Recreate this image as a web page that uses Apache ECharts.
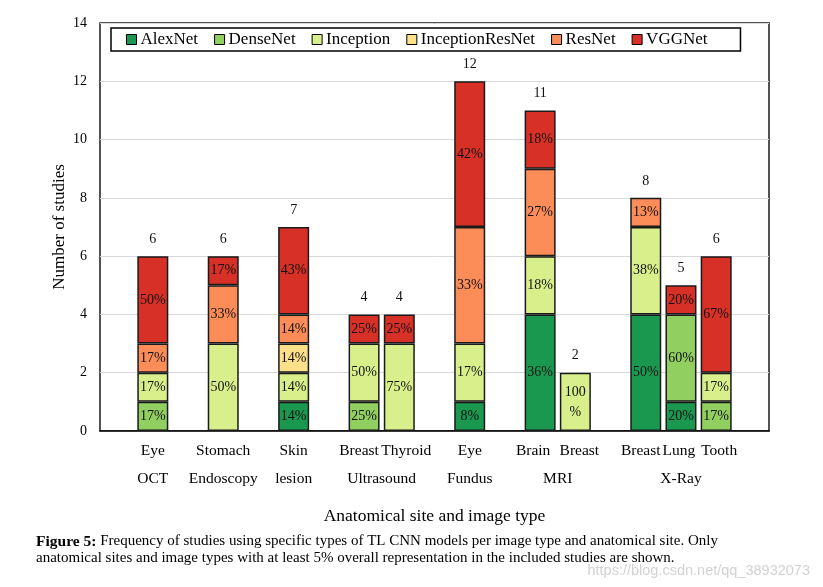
<!DOCTYPE html>
<html>
<head>
<meta charset="utf-8">
<script src="https://cdn.jsdelivr.net/npm/echarts@6/dist/echarts.min.js"></script>
<style>
html,body{margin:0;padding:0;background:#fff;}
#chart{width:823px;height:587px;}
</style>
</head>
<body>
<div id="chart"></div>
<script>
// 19 category slots (blank slots separate the groups, as in the original)
const sites = ['', 'Eye', '', 'Stomach', '', 'Skin', '', 'Breast', 'Thyroid', '', 'Eye', '', 'Brain', 'Breast', '', 'Breast', 'Lung', 'Tooth', ''];
// second-level labels on a 39-position (half-slot) axis
const imageTypes = ['', '', '', 'OCT', '', '', '', 'Endoscopy', '', '', '', 'lesion', '', '', '', '', 'Ultrasound', '', '', '', '', 'Fundus', '', '', '', '', 'MRI', '', '', '', '', '', '', 'X-Ray', '', '', '', '', ''];
const models = ['AlexNet', 'DenseNet', 'Inception', 'InceptionResNet', 'ResNet', 'VGGNet'];
const colors = ['#1a9850', '#91cf60', '#d9ef8b', '#fee08b', '#fc8d59', '#d73027'];

const alexNet         = [0, 0, 0, 0, 0, 1, 0, 0, 0, 0, 1, 0, 4, 0, 0, 4, 1, 0, 0];
const denseNet        = [0, 1, 0, 0, 0, 0, 0, 1, 0, 0, 0, 0, 0, 0, 0, 0, 3, 1, 0];
const inception       = [0, 1, 0, 3, 0, 1, 0, 2, 3, 0, 2, 0, 2, 2, 0, 3, 0, 1, 0];
const inceptionResNet = [0, 0, 0, 0, 0, 1, 0, 0, 0, 0, 0, 0, 0, 0, 0, 0, 0, 0, 0];
const resNet          = [0, 1, 0, 2, 0, 1, 0, 0, 0, 0, 4, 0, 3, 0, 0, 1, 0, 0, 0];
const vggNet          = [0, 3, 0, 1, 0, 3, 0, 1, 1, 0, 5, 0, 2, 0, 0, 0, 1, 4, 0];
const totals          = [0, 6, 0, 6, 0, 7, 0, 4, 4, 0, 12, 0, 11, 2, 0, 8, 5, 6, 0];

const yTicks = [0, 2, 4, 6, 8, 10, 12, 14];

// small label nudges (Excel spreads touching labels apart)
const labelShift = {7: -5, 8: 7, 12: -7, 13: 4, 15: -5, 16: -2, 17: 3};

const serif = 'Liberation Serif';
const valuesList = [alexNet, denseNet, inception, inceptionResNet, resNet, vggNet];

const series = models.map((name, k) => ({
  name: name,
  type: 'bar',
  stack: 'all',
  barWidth: 31,
  data: valuesList[k].map(v => v === 0 ? '-' : v),
  itemStyle: { color: colors[k], borderColor: '#1a1a1a', borderWidth: 1.5 },
  label: {
    show: true,
    position: 'inside',
    fontFamily: serif,
    fontSize: 14,
    color: '#111',
    width: 30,
    overflow: 'breakAll',
    lineHeight: 20,
    formatter: p => Math.round(p.value / totals[p.dataIndex] * 100) + '%'
  }
}));

series.push({
  name: 'Total',
  type: 'bar',
  barWidth: 31,
  barGap: '-100%',
  silent: true,
  data: totals.map(v => v === 0 ? '-' : v),
  itemStyle: { color: 'rgba(0,0,0,0)', borderWidth: 0 },
  label: {
    show: true,
    position: 'top',
    distance: 10,
    fontFamily: serif,
    fontSize: 14,
    color: '#111',
    formatter: p => String(p.value)
  },
  z: 1
});

const chart = echarts.init(document.getElementById('chart'));
chart.setOption({
  animation: false,
  backgroundColor: '#fff',
  title: [
    {
      left: 31,
      top: 528,
      text: '{b|Figure 5:} Frequency of studies using specific types of TL CNN models per image type and anatomical site. Only\nanatomical sites and image types with at least 5% overall representation in the included studies are shown.',
      textStyle: {
        fontFamily: serif,
        fontSize: 15,
        fontWeight: 'normal',
        color: '#000',
        lineHeight: 17,
        rich: {
          b: { fontFamily: serif, fontSize: 15.5, fontWeight: 'bold', color: '#000', lineHeight: 17 }
        }
      }
    },
    {
      right: 8,
      top: 558,
      text: 'https://blog.csdn.net/qq_38932073',
      textStyle: { fontFamily: 'Liberation Sans', fontSize: 14.5, fontWeight: 'normal', color: '#d2d2d2' }
    }
  ],
  legend: {
    data: models,
    left: 111,
    top: 28,
    itemWidth: 10,
    itemHeight: 10,
    itemGap: 16,
    icon: 'rect',
    padding: [3, 33, 3, 15],
    borderColor: '#000',
    borderWidth: 1.5,
    itemStyle: { borderColor: '#000', borderWidth: 1 },
    textStyle: { fontFamily: serif, fontSize: 17, color: '#000', padding: [0, 0, 0, -1] }
  },
  grid: {
    left: 100, right: 54, top: 23, bottom: 156,
    show: true, borderColor: '#1a1a1a', borderWidth: 1.5,
    containLabel: false
  },
  xAxis: [
    {
      type: 'category',
      data: sites,
      position: 'bottom',
      axisLine: { show: true, lineStyle: { color: '#000', width: 1.5 } },
      axisTick: { show: false },
      axisLabel: {
        interval: 0,
        margin: 12,
        fontFamily: serif,
        fontSize: 15.5,
        color: '#000',
        formatter: (v, i) => {
          const s = labelShift[i] || 0;
          if (s < 0) return '{r' + (-s) + '|' + v + '}';
          if (s > 0) return '{l' + s + '|' + v + '}';
          return v;
        },
        rich: (function () {
          const r = {};
          for (let s = 1; s <= 10; s++) {
            r['r' + s] = { fontFamily: serif, fontSize: 15.5, color: '#000', padding: [0, 2 * s, 0, 0] };
            r['l' + s] = { fontFamily: serif, fontSize: 15.5, color: '#000', padding: [0, 0, 0, 2 * s] };
          }
          return r;
        })()
      },
      name: 'Anatomical site and image type',
      nameLocation: 'middle',
      nameGap: 76,
      nameMoveOverlap: false,
      nameTextStyle: { fontFamily: serif, fontSize: 17.5, color: '#000' }
    },
    {
      type: 'category',
      data: imageTypes,
      position: 'bottom',
      boundaryGap: false,
      axisLine: { show: false },
      axisTick: { show: false },
      splitLine: { show: false },
      axisLabel: {
        interval: 0,
        margin: 40,
        fontFamily: serif,
        fontSize: 15.5,
        color: '#000'
      }
    }
  ],
  yAxis: {
    type: 'value',
    min: yTicks[0],
    max: yTicks[yTicks.length - 1],
    interval: 2,
    axisLine: { show: false },
    axisTick: { show: false },
    splitLine: { show: true, lineStyle: { color: '#d9d9d9', width: 1 } },
    axisLabel: { margin: 13, fontFamily: serif, fontSize: 14, color: '#000' },
    name: 'Number of studies',
    nameLocation: 'middle',
    nameGap: 32,
    nameMoveOverlap: false,
    nameRotate: 90,
    nameTextStyle: { fontFamily: serif, fontSize: 17, color: '#000' }
  },
  series: series
});
</script>
</body>
</html>
